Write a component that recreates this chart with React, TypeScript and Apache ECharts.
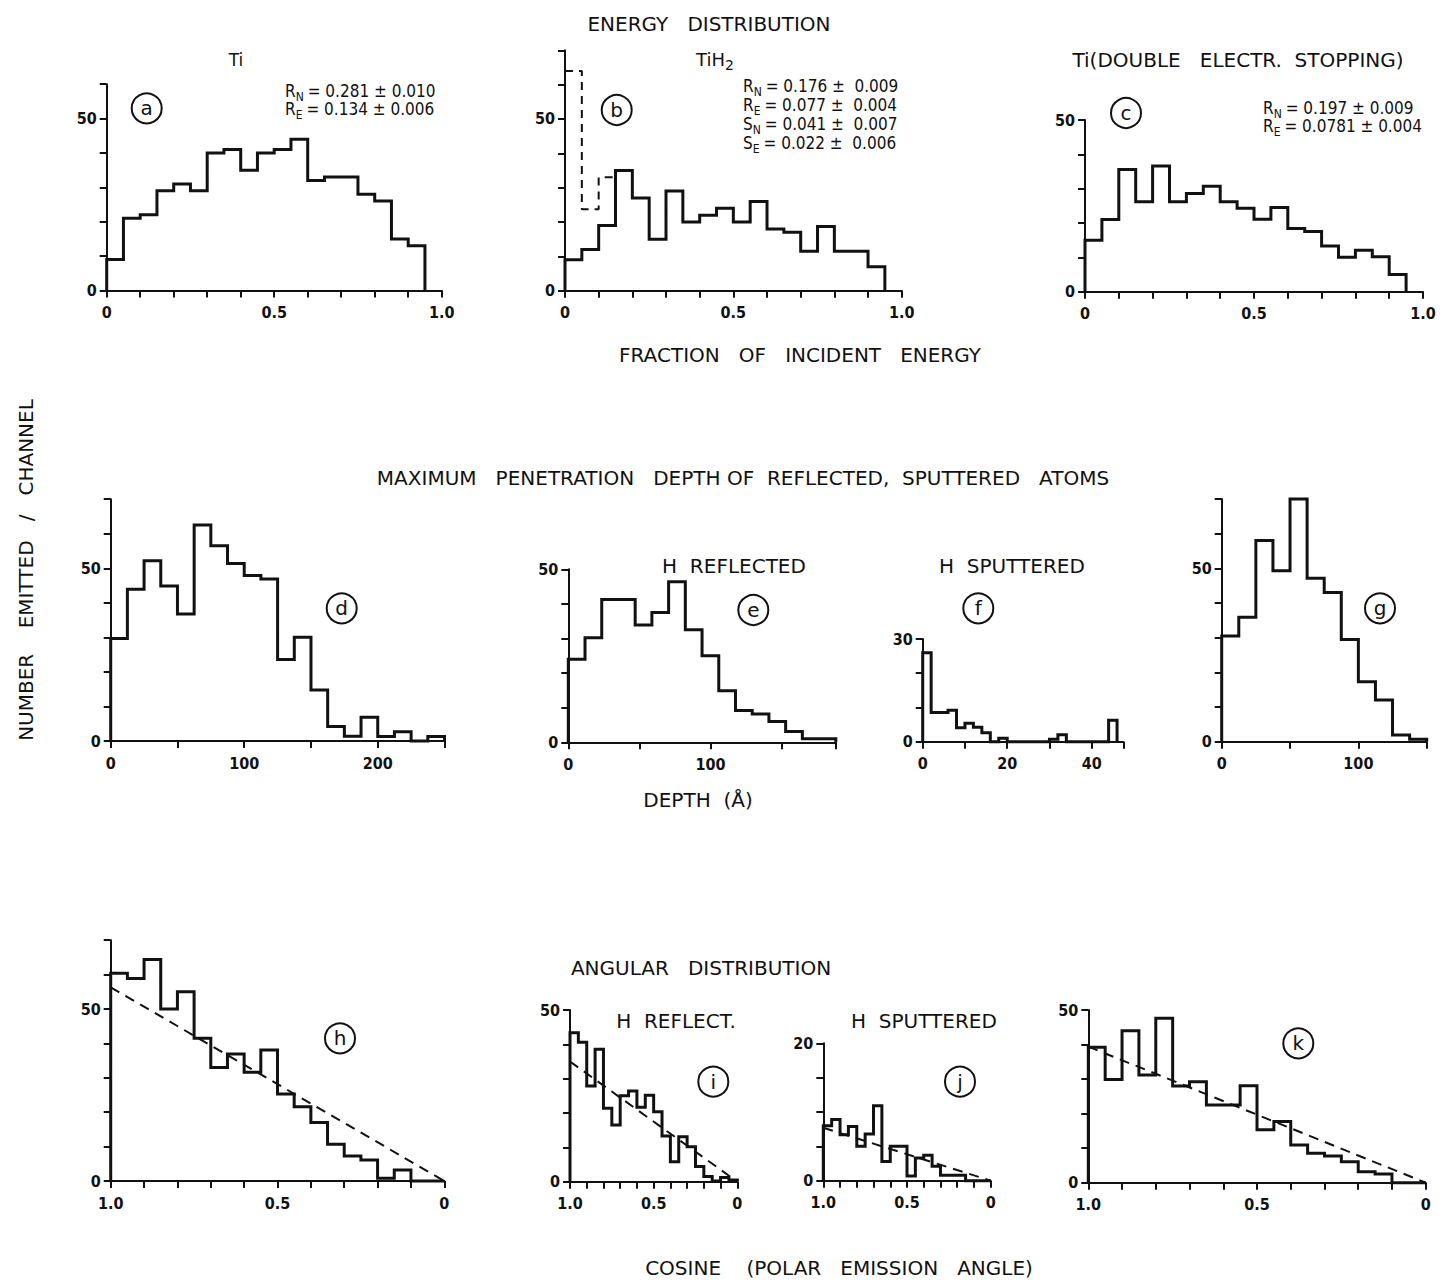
import React, { useEffect, useRef } from "react";
import * as echarts from "echarts";

// ---------- data (counts per channel) ----------
// Energy distribution, channels of 0.05 from 0
const energyTi = [9, 21, 22, 29, 31, 29, 40, 41, 35, 40, 41, 44, 32, 33, 33, 28, 26, 15, 13];
const energyTiH2 = [9, 12, 19, 35, 27, 15, 29, 20, 22, 24, 20, 26, 18, 17, 11.5, 18.7, 11.5, 11.5, 7];
const energyTiH2Dashed = [64, 23.7, 33];
const energyTiDouble = [15, 21, 35.6, 26.2, 36.6, 26.2, 28.6, 30.7, 26.2, 24.3, 21.1, 24.5, 18.4, 17.5, 13.3, 10, 12.1, 10.2, 5];
// Depth distributions
const depthD = [29.7, 43.9, 52.2, 44.9, 36.8, 62.5, 56.5, 51.4, 47.9, 46.9, 23.6, 30, 14.8, 4.2, 1.4, 6.9, 1.3, 2.7, 0, 1.3]; // 12.5 Å
const depthE = [24, 30.2, 41.3, 41.3, 33.9, 37.5, 46.4, 32.5, 25, 14.9, 9.2, 8.2, 6, 3.1, 1, 1]; // 11.75 Å
const depthF = [26, 8.5, 8.5, 9.2, 4.1, 5.4, 4.2, 2.6, 0, 1, 0, 0, 0, 0, 0, 0.7, 2, 0, 0, 0, 0, 0, 6.3]; // 2 Å
const depthG = [30.5, 35.9, 58, 49.3, 70, 47.1, 43, 29.5, 17.3, 12, 1.9, 0.7]; // 12.5 Å
// Angular distributions, channels of 0.05 in cosine from 1.0 downwards
const angH = [60.4, 58.9, 64.4, 50, 55, 41.5, 33, 36.9, 31.6, 38.1, 25.3, 21.6, 17, 10.7, 7.3, 6.1, 0.8, 3.2, 0, 0];
const angI = [43.4, 40.6, 27.9, 38.6, 21.4, 16.5, 25, 26.4, 21.7, 25.2, 20.4, 13.3, 5.8, 13.1, 10.2, 4.4, 1.5, 0.2, 1.2, 0.5];
const angJ = [8, 8.9, 6.7, 7.9, 5, 6.8, 10.9, 2.8, 5, 5, 0.7, 3.3, 3.7, 2.1, 0.8, 0.8, 0.8, 0, 0, 0];
const angK = [39.2, 29.9, 44, 31.2, 47.6, 28, 29.2, 22.5, 22.5, 28.1, 15.3, 17.7, 10.9, 8.5, 7.7, 6.1, 3.2, 2.5, 0, 0];
// cosine fits: value at cos = 1.0 and cos = 0
const fitH = [56.3, 0];
const fitI = [35, 0];
const fitJ = [7.7, 0];
const fitK = [39.4, 0];
// tick labels
const energyTicks = [0, 0.5, 1];
const energyTickText = ["0", "0.5", "1.0"];
const cosTicks = [1, 0.5, 0];
const cosTickText = ["1.0", "0.5", "0"];

const FONT = "'DejaVu Sans', sans-serif";
const COND = "'DejaVu Sans Condensed', 'DejaVu Sans', sans-serif";

function steps(start: number, width: number, vals: number[], fromZero = true, toZero = true) {
  const pts: number[][] = [];
  if (fromZero) pts.push([start, 0]);
  vals.forEach((v, i) => {
    pts.push([start + width * i, v], [start + width * (i + 1), v]);
  });
  if (toZero) pts.push([start + width * vals.length, 0]);
  return pts;
}

type Panel = {
  key: string;
  l: number; r: number; t: number; b: number;
  xMax: number; xInt: number; xLab: number[]; xText: string[];
  yMax: number; yInt: number; yLab: number[];
  inverse?: boolean;
};

const panels: Panel[] = [
  { key: "a", l: 106.7, r: 441.7, t: 84.2, b: 290.5, xMax: 1, xInt: 0.1, xLab: energyTicks, xText: energyTickText, yMax: 60, yInt: 10, yLab: [0, 50] },
  { key: "b", l: 565, r: 901.7, t: 50.3, b: 290.7, xMax: 1, xInt: 0.1, xLab: energyTicks, xText: energyTickText, yMax: 70, yInt: 10, yLab: [0, 50] },
  { key: "c", l: 1085, r: 1423, t: 120, b: 291.7, xMax: 1, xInt: 0.1, xLab: energyTicks, xText: energyTickText, yMax: 50, yInt: 10, yLab: [0, 50] },
  { key: "d", l: 110.7, r: 444.5, t: 499.2, b: 741, xMax: 250, xInt: 50, xLab: [0, 100, 200], xText: ["0", "100", "200"], yMax: 70, yInt: 10, yLab: [0, 50] },
  { key: "e", l: 568.3, r: 835.8, t: 569.3, b: 742.3, xMax: 188, xInt: 50, xLab: [0, 100], xText: ["0", "100"], yMax: 50, yInt: 10, yLab: [0, 50] },
  { key: "f", l: 922.7, r: 1123.4, t: 639, b: 741.7, xMax: 47.5, xInt: 10, xLab: [0, 20, 40], xText: ["0", "20", "40"], yMax: 30, yInt: 10, yLab: [0, 30] },
  { key: "g", l: 1221.7, r: 1426.7, t: 498.9, b: 741.7, xMax: 150, xInt: 50, xLab: [0, 100], xText: ["0", "100"], yMax: 70, yInt: 10, yLab: [0, 50] },
  { key: "h", l: 110.7, r: 444.3, t: 940.2, b: 1181, xMax: 1, xInt: 0.1, xLab: cosTicks, xText: cosTickText, yMax: 70, yInt: 10, yLab: [0, 50], inverse: true },
  { key: "i", l: 570, r: 737.3, t: 1010, b: 1181.7, xMax: 1, xInt: 0.1, xLab: cosTicks, xText: cosTickText, yMax: 50, yInt: 10, yLab: [0, 50], inverse: true },
  { key: "j", l: 823.3, r: 990.7, t: 1043.3, b: 1180.7, xMax: 1, xInt: 0.1, xLab: cosTicks, xText: cosTickText, yMax: 20, yInt: 5, yLab: [0, 20], inverse: true },
  { key: "k", l: 1088.3, r: 1425.7, t: 1010, b: 1182.7, xMax: 1, xInt: 0.1, xLab: cosTicks, xText: cosTickText, yMax: 50, yInt: 10, yLab: [0, 50], inverse: true },
];

const histData: Record<string, number[][]> = {
  a: steps(0, 0.05, energyTi),
  b: steps(0, 0.05, energyTiH2),
  c: steps(0, 0.05, energyTiDouble),
  d: steps(0, 12.5, depthD),
  e: steps(0, 11.75, depthE),
  f: steps(0, 2, depthF),
  g: steps(0, 12.5, depthG),
  h: steps(1, -0.05, angH),
  i: steps(1, -0.05, angI),
  j: steps(1, -0.05, angJ),
  k: steps(1, -0.05, angK),
};

const fits: Record<string, number[]> = { h: fitH, i: fitI, j: fitJ, k: fitK };

const labelFmt = (vals: number[], texts: string[]) => (v: number) => {
  const idx = vals.findIndex((x) => Math.abs(x - v) < 1e-6);
  return idx < 0 ? "" : texts[idx];
};

const axisLine = { show: true, onZero: false, lineStyle: { color: "#111", width: 2 } };
const axisTick = { show: true, inside: false, length: 7, lineStyle: { color: "#111", width: 2 } };
const tickFont = { color: "#111", fontFamily: COND, fontSize: 16, fontWeight: "bold" as const };

function circleLabel(letter: string, x: number, y: number) {
  return [
    { type: "circle", shape: { cx: x, cy: y, r: 15 }, style: { fill: "none", stroke: "#111", lineWidth: 2 } },
    { type: "text", x, y, style: { text: letter, font: `20px ${FONT}`, fill: "#111", align: "center", verticalAlign: "middle" } },
  ];
}

function heading(text: string, x: number, y: number, size = 20, extra: any = {}) {
  return { type: "text", x, y, ...extra, style: { text, font: `${size}px ${FONT}`, fill: "#111", align: "center", verticalAlign: "middle" } };
}

let measureCtx: CanvasRenderingContext2D | null = null;
function textWidth(text: string, font: string) {
  if (!measureCtx) measureCtx = document.createElement("canvas").getContext("2d");
  if (!measureCtx) return text.length * 8;
  measureCtx.font = font;
  return measureCtx.measureText(text).width;
}

// symbol with subscript followed by the rest, left-aligned at x
function subscripted(sym: string, sub: string, rest: string, x: number, y: number, size: number, subSize: number, family: string) {
  const f1 = `${size}px ${family}`;
  const f2 = `${subSize}px ${family}`;
  const w1 = textWidth(sym, f1);
  const w2 = textWidth(sub, f2);
  const out: any[] = [
    { type: "text", x, y, style: { text: sym, font: f1, fill: "#111", align: "left", verticalAlign: "middle" } },
    { type: "text", x: x + w1, y: y + size * 0.33, style: { text: sub, font: f2, fill: "#111", align: "left", verticalAlign: "middle" } },
  ];
  if (rest) out.push({ type: "text", x: x + w1 + w2 + 4, y, style: { text: rest, font: f1, fill: "#111", align: "left", verticalAlign: "middle" } });
  return out;
}

export default function App() {
  const ref = useRef<HTMLDivElement>(null);
  useEffect(() => {
    if (!ref.current) return;
    const chart = echarts.init(ref.current, undefined, { renderer: "svg" });
    const grid = panels.map((p) => ({ left: p.l, top: p.t, width: p.r - p.l, height: p.b - p.t, containLabel: false }));
    const xAxis = panels.map((p, i) => ({
      type: "value", gridIndex: i, min: 0, max: p.xMax, interval: p.xInt, inverse: !!p.inverse, position: "bottom",
      axisLine, axisTick, splitLine: { show: false },
      axisLabel: { ...tickFont, margin: 14, showMinLabel: true, showMaxLabel: true, formatter: labelFmt(p.xLab, p.xText) },
    }));
    const yAxis = panels.map((p, i) => ({
      type: "value", gridIndex: i, min: 0, max: p.yMax, interval: p.yInt, position: "left",
      axisLine, axisTick, splitLine: { show: false },
      axisLabel: { ...tickFont, margin: 10, showMinLabel: true, showMaxLabel: true, formatter: labelFmt(p.yLab, p.yLab.map(String)) },
    }));
    const series: any[] = panels.map((p, i) => ({
      type: "line", xAxisIndex: i, yAxisIndex: i, data: histData[p.key], showSymbol: false, symbol: "none",
      lineStyle: { color: "#111", width: 3, join: "miter" }, clip: false,
    }));
    series.push({
      type: "line", xAxisIndex: 1, yAxisIndex: 1, data: steps(0, 0.05, energyTiH2Dashed, false, false), showSymbol: false, symbol: "none",
      lineStyle: { color: "#111", width: 2, type: [8, 6] },
    });
    panels.forEach((p, i) => {
      const f = fits[p.key];
      if (!f) return;
      series.push({
        type: "line", xAxisIndex: i, yAxisIndex: i, data: [[1, f[0]], [0, f[1]]], showSymbol: false, symbol: "none",
        lineStyle: { color: "#111", width: 2, type: [10, 7] },
      });
    });

    const graphics: any[] = [
      heading("ENERGY   DISTRIBUTION", 709, 24),
      heading("Ti", 236, 60, 17),
      ...subscripted("TiH", "2", "", 696, 59, 18, 14, FONT),
      heading("Ti(DOUBLE   ELECTR.  STOPPING)", 1238, 60),
      heading("FRACTION   OF   INCIDENT   ENERGY", 800, 355),
      heading("MAXIMUM   PENETRATION   DEPTH OF  REFLECTED,  SPUTTERED   ATOMS", 743, 478),
      heading("H  REFLECTED", 734, 566),
      heading("H  SPUTTERED", 1012, 566),
      heading("DEPTH  (Å)", 698, 800),
      heading("ANGULAR   DISTRIBUTION", 701, 968),
      heading("H  REFLECT.", 676, 1021),
      heading("H  SPUTTERED", 924, 1021),
      heading("COSINE    (POLAR   EMISSION   ANGLE)", 839, 1268),
      heading("NUMBER    EMITTED   /   CHANNEL", 26, 570, 20, { rotation: Math.PI / 2 }),
      ...subscripted("R", "N", "= 0.281 ± 0.010", 285, 91, 17, 12, COND),
      ...subscripted("R", "E", "= 0.134 ± 0.006", 285, 109, 17, 12, COND),
      ...subscripted("R", "N", "= 0.176 ±  0.009", 743, 86, 17, 12, COND),
      ...subscripted("R", "E", "= 0.077 ±  0.004", 743, 105, 17, 12, COND),
      ...subscripted("S", "N", "= 0.041 ±  0.007", 743, 124, 17, 12, COND),
      ...subscripted("S", "E", "= 0.022 ±  0.006", 743, 143, 17, 12, COND),
      ...subscripted("R", "N", "= 0.197 ± 0.009", 1263, 108, 17, 12, COND),
      ...subscripted("R", "E", "= 0.0781 ± 0.004", 1263, 126, 17, 12, COND),
      ...circleLabel("a", 146.7, 108.3),
      ...circleLabel("b", 616.7, 110),
      ...circleLabel("c", 1126, 113),
      ...circleLabel("d", 341.7, 608.3),
      ...circleLabel("e", 753.3, 610),
      ...circleLabel("f", 978.3, 608.3),
      ...circleLabel("g", 1380, 608.3),
      ...circleLabel("h", 340, 1038.3),
      ...circleLabel("i", 713.3, 1081.7),
      ...circleLabel("j", 960, 1081.7),
      ...circleLabel("k", 1298.3, 1043.3),
    ];

    chart.setOption({
      animation: false,
      backgroundColor: "#fff",
      grid, xAxis, yAxis, series,
      graphic: { elements: graphics },
    });
    return () => chart.dispose();
  }, []);
  return <div ref={ref} style={{ position: "absolute", left: 0, top: 0, width: 1442, height: 1283, background: "#fff" }} />;
}
